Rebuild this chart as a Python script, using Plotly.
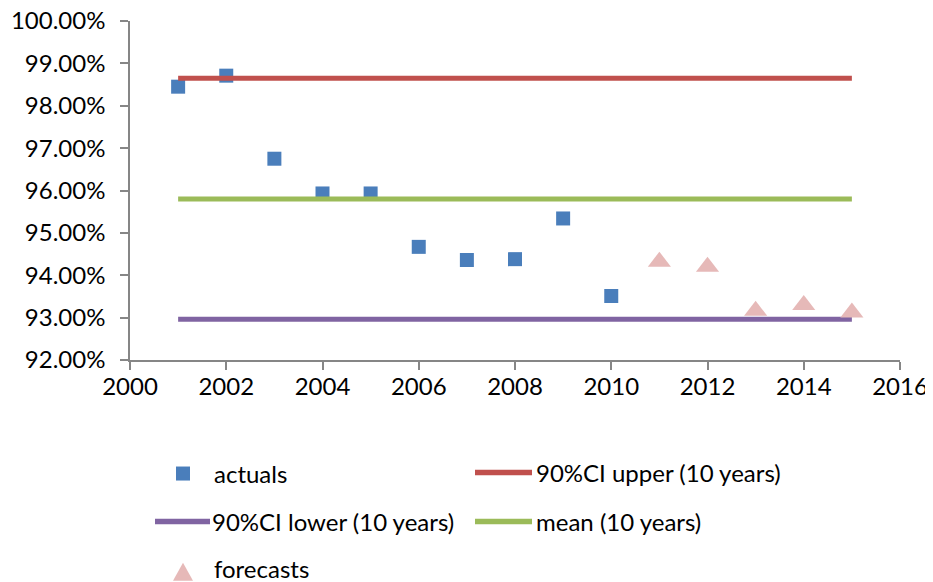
import plotly.graph_objs as go

# actual values and forecasts (share, as fractions)
actual_years = [2001, 2002, 2003, 2004, 2005, 2006, 2007, 2008, 2009, 2010]
actuals = [0.9845, 0.9871, 0.9675, 0.9593, 0.9593, 0.9467, 0.9436, 0.9438, 0.9534, 0.9351]

forecast_years = [2011, 2012, 2013, 2014, 2015]
forecasts = [0.9432, 0.9420, 0.9316, 0.9330, 0.9312]

# 10-year statistics, drawn across the whole period
band_years = [2001, 2015]
ci_upper = [0.9865, 0.9865]
ci_lower = [0.9296, 0.9296]
mean_10y = [0.9580, 0.9580]

FONT = "Lato"
FONT_SIZE = 24
AXIS_GREY = "#868686"

BLUE = "#4A7EBB"
RED = "#C0504D"
PURPLE = "#8064A2"
GREEN = "#9BBB59"
PINK = "#E6B9B8"

# the page body adds an 8px margin, so the figure is laid out 8px up/left
OFF = 8
W, H = 933, 582
L, T = 130 - OFF, 21 - OFF
PW, PH = 770, 338.6
R = W - L - PW
B = H - T - PH


def px(x, y):
    """screen pixel position -> paper coordinates"""
    x, y = x - OFF, y - OFF
    return (x - L) / PW, (T + PH - y) / PH


fig = go.Figure()

fig.add_trace(go.Scatter(
    x=actual_years, y=actuals, mode="markers", name="actuals",
    marker=dict(symbol="square", size=14, color=BLUE),
))
fig.add_trace(go.Scatter(
    x=band_years, y=ci_upper, mode="lines", name="90%CI upper (10 years)",
    line=dict(color=RED, width=5),
))
fig.add_trace(go.Scatter(
    x=band_years, y=ci_lower, mode="lines", name="90%CI lower (10 years)",
    line=dict(color=PURPLE, width=5),
))
fig.add_trace(go.Scatter(
    x=band_years, y=mean_10y, mode="lines", name="mean (10 years)",
    line=dict(color=GREEN, width=5),
))
fig.add_trace(go.Scatter(
    x=forecast_years, y=forecasts, mode="markers", name="forecasts",
    marker=dict(symbol="triangle-up", size=20, color=PINK),
))

# legend drawn by hand: two columns, Excel style
shapes = []
annotations = []


def legend_text(x, y, text):
    ax, ay = px(x, y)
    annotations.append(dict(
        x=ax, y=ay, xref="paper", yref="paper", text=text, showarrow=False,
        xanchor="left", yanchor="middle",
        font=dict(family=FONT, size=FONT_SIZE, color="#000000"),
    ))


def legend_line(x0, x1, y, color):
    a0, b0 = px(x0, y)
    a1, _ = px(x1, y)
    shapes.append(dict(type="line", xref="paper", yref="paper",
                       x0=a0, x1=a1, y0=b0, y1=b0,
                       line=dict(color=color, width=5.5)))


def legend_square(cx, cy, size, color):
    a0, b0 = px(cx - size / 2, cy + size / 2)
    a1, b1 = px(cx + size / 2, cy - size / 2)
    shapes.append(dict(type="rect", xref="paper", yref="paper",
                       x0=a0, x1=a1, y0=b0, y1=b1,
                       fillcolor=color, line=dict(width=0)))


def legend_triangle(cx, cy, w, h, color):
    p1 = px(cx - w / 2, cy + h / 2)
    p2 = px(cx + w / 2, cy + h / 2)
    p3 = px(cx, cy - h / 2)
    path = "M{},{} L{},{} L{},{} Z".format(p1[0], p1[1], p2[0], p2[1], p3[0], p3[1])
    shapes.append(dict(type="path", xref="paper", yref="paper", path=path,
                       fillcolor=color, line=dict(width=0)))


legend_square(183, 473, 14, BLUE)
legend_text(212, 473, "actuals")
legend_line(475, 532, 472, RED)
legend_text(534, 472, "90%CI upper (10 years)")
legend_line(155, 210, 521, PURPLE)
legend_text(210, 521, "90%CI lower (10 years)")
legend_line(475, 532, 521, GREEN)
legend_text(534, 521, "mean (10 years)")
legend_triangle(183, 571, 20, 18, PINK)
legend_text(212, 568, "forecasts")

axis_style = dict(
    showgrid=False,
    zeroline=False,
    showline=True,
    linecolor=AXIS_GREY,
    linewidth=1.5,
    ticks="outside",
    ticklen=8,
    tickcolor=AXIS_GREY,
    tickwidth=1.5,
    tickfont=dict(family=FONT, size=FONT_SIZE, color="#000000"),
    ticklabeloverflow="allow",
    automargin=False,
)

fig.update_layout(
    width=W,
    height=H,
    margin=dict(l=L, r=R, t=T, b=B),
    paper_bgcolor="white",
    plot_bgcolor="white",
    showlegend=False,
    font=dict(family=FONT, size=FONT_SIZE, color="#000000"),
    xaxis=dict(range=[2000, 2016], dtick=2, ticklabelstandoff=-4, **axis_style),
    yaxis=dict(range=[0.92, 1.00], dtick=0.01, tickformat=".2%",
               ticklabelstandoff=10, **axis_style),
    shapes=shapes,
    annotations=annotations,
)

fig.write_html("out.html")
